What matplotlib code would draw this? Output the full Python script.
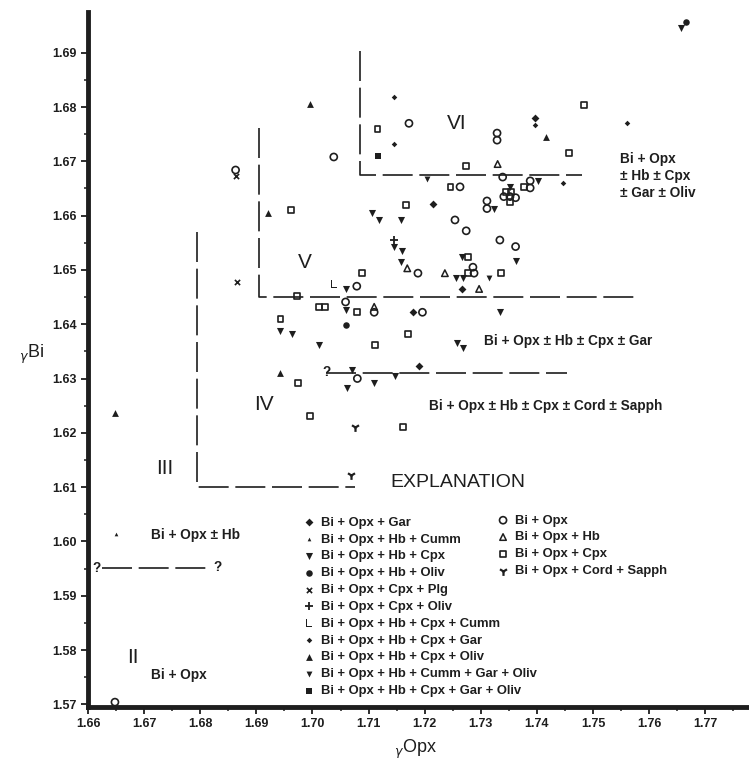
import matplotlib
matplotlib.use('Agg')
import matplotlib.pyplot as plt

plt.rcParams['font.family'] = ['Liberation Sans', 'DejaVu Sans']

INK = '#1e1e1e'

# ---- data (gamma Opx, gamma Bi) ----
gar_x = [1.7397, 1.7179, 1.7189, 1.7214, 1.7266]
gar_y = [1.6780, 1.6422, 1.6323, 1.6622, 1.6465]

hb_cumm_x = [1.6650]
hb_cumm_y = [1.6014]

hb_cpx_x = [1.7352, 1.7402, 1.7323, 1.7107, 1.7118, 1.7157, 1.7146, 1.7159,
            1.7157, 1.7362, 1.7266, 1.7255, 1.7268, 1.7059, 1.7059, 1.6943,
            1.6963, 1.7011, 1.7334, 1.7258, 1.7268, 1.7070, 1.7110, 1.7148,
            1.7061, 1.7657]
hb_cpx_y = [1.6653, 1.6664, 1.6613, 1.6604, 1.6592, 1.6592, 1.6543, 1.6534,
            1.6514, 1.6517, 1.6523, 1.6486, 1.6486, 1.6465, 1.6427, 1.6387,
            1.6382, 1.6361, 1.6422, 1.6366, 1.6356, 1.6315, 1.6291, 1.6304,
            1.6282, 1.6945]

hb_oliv_x = [1.7666, 1.7059]
hb_oliv_y = [1.6957, 1.6398]

cpx_plg_x = [1.6866, 1.6863]
cpx_plg_y = [1.6478, 1.6673]

cpx_oliv_x = [1.7146]
cpx_oliv_y = [1.6555]

hb_cpx_cumm_x = [1.7039]
hb_cpx_cumm_y = [1.6474]

hb_cpx_gar_x = [1.7145, 1.7145, 1.7561, 1.7447, 1.7397]
hb_cpx_gar_y = [1.6818, 1.6732, 1.6770, 1.6660, 1.6766]

hb_cpx_oliv_x = [1.6996, 1.6921, 1.6943, 1.7417, 1.6648]
hb_cpx_oliv_y = [1.6805, 1.6604, 1.6310, 1.6744, 1.6236]

hb_cumm_gar_oliv_x = [1.7205, 1.7314]
hb_cumm_gar_oliv_y = [1.6667, 1.6486]

hb_cpx_gar_oliv_x = [1.7116]
hb_cpx_gar_oliv_y = [1.6710]

opx_x = [1.6863, 1.7038, 1.7172, 1.7329, 1.7329, 1.7339, 1.7263, 1.7388,
         1.7388, 1.7341, 1.7352, 1.7362, 1.7311, 1.7311, 1.7254, 1.7274,
         1.7334, 1.7362, 1.7188, 1.7286, 1.7288, 1.7079, 1.7059, 1.7110,
         1.7196, 1.7080, 1.6648]
opx_y = [1.6684, 1.6708, 1.6770, 1.6752, 1.6739, 1.6671, 1.6653, 1.6664,
         1.6651, 1.6635, 1.6635, 1.6633, 1.6627, 1.6613, 1.6592, 1.6572,
         1.6555, 1.6543, 1.6494, 1.6505, 1.6494, 1.6470, 1.6441, 1.6422,
         1.6422, 1.6300, 1.5704]

hb_x = [1.7330, 1.7236, 1.7297, 1.7169, 1.7110]
hb_y = [1.6695, 1.6494, 1.6465, 1.6503, 1.6432]

cpx_x = [1.7116, 1.7484, 1.7457, 1.7273, 1.7246, 1.7377, 1.7345, 1.7354,
         1.7352, 1.7166, 1.6961, 1.7089, 1.6973, 1.7011, 1.7023, 1.7080,
         1.6943, 1.7111, 1.7170, 1.6975, 1.6995, 1.7161, 1.7277, 1.7277,
         1.7336]
cpx_y = [1.6759, 1.6804, 1.6715, 1.6692, 1.6653, 1.6653, 1.6644, 1.6644,
         1.6625, 1.6620, 1.6611, 1.6494, 1.6452, 1.6432, 1.6432, 1.6422,
         1.6410, 1.6361, 1.6382, 1.6291, 1.6231, 1.6210, 1.6523, 1.6494,
         1.6494]

cord_sapph_x = [1.7075, 1.7068]
cord_sapph_y = [1.6210, 1.6122]

# field boundaries
b6_x = [1.7084, 1.7084, 1.7480]
b6_y = [1.6903, 1.6675, 1.6675]
b5_x = [1.6904, 1.6904, 1.7579]
b5_y = [1.6761, 1.6450, 1.6450]
b4_x = [1.6795, 1.6795, 1.7075]
b4_y = [1.6570, 1.6100, 1.6100]
b45_x = [1.7025, 1.7454]
b45_y = [1.6310, 1.6310]
b23_x = [1.6625, 1.6815]
b23_y = [1.5951, 1.5951]

fig = plt.figure(figsize=(7.49, 7.69), dpi=100)
ax = fig.add_axes([0.1175, 0.0806, 0.8825, 0.9038])

kw = dict(color=INK, linewidths=0)
s_gar = ax.scatter(gar_x, gar_y, marker='D', s=16, **kw)
s_hcu = ax.scatter(hb_cumm_x, hb_cumm_y, marker='^', s=7, **kw)
s_hcp = ax.scatter(hb_cpx_x, hb_cpx_y, marker='v', s=26, **kw)
s_hol = ax.scatter(hb_oliv_x, hb_oliv_y, marker='o', s=22, **kw)
s_plg = ax.scatter(cpx_plg_x, cpx_plg_y, marker='x', s=14, color=INK, linewidths=1.2)
s_col = ax.scatter(cpx_oliv_x, cpx_oliv_y, marker='+', s=40, color=INK, linewidths=1.3)
s_cum = ax.scatter(hb_cpx_cumm_x, hb_cpx_cumm_y, marker=r'$\mathsf{L}$', s=40, **kw)
s_hcg = ax.scatter(hb_cpx_gar_x, hb_cpx_gar_y, marker='D', s=8, **kw)
s_hco = ax.scatter(hb_cpx_oliv_x, hb_cpx_oliv_y, marker='^', s=24, **kw)
s_cgo = ax.scatter(hb_cumm_gar_oliv_x, hb_cumm_gar_oliv_y, marker='v', s=18, **kw)
s_sq = ax.scatter(hb_cpx_gar_oliv_x, hb_cpx_gar_oliv_y, marker='s', s=20, **kw)
s_opx = ax.scatter(opx_x, opx_y, marker='o', s=26, facecolors='none',
                   edgecolors=INK, linewidths=1.2)
s_hb = ax.scatter(hb_x, hb_y, marker='^', s=22, facecolors='none',
                  edgecolors=INK, linewidths=1.1)
s_cpx = ax.scatter(cpx_x, cpx_y, marker='s', s=18, facecolors='none',
                   edgecolors=INK, linewidths=1.2)
s_cs = ax.scatter(cord_sapph_x, cord_sapph_y, marker='1', s=40, color=INK,
                  linewidths=1.6)

dash = (0, (18, 4))
for bx, by in [(b6_x, b6_y), (b5_x, b5_y), (b4_x, b4_y), (b45_x, b45_y), (b23_x, b23_y)]:
    ax.plot(bx, by, color=INK, lw=1.2, linestyle=dash)

bold = dict(color=INK, fontsize=9.8, fontweight='bold', va='center')
ax.text(1.7018, 1.6312, '?', **bold)
ax.text(1.6607, 1.5951, '?', **bold)
ax.text(1.6823, 1.5953, '?', **bold)

big = dict(color=INK, fontsize=15, ha='center', va='center')
ax.text(1.7257, 1.6770, 'VI', **big)
ax.text(1.6986, 1.6513, 'V', **big)
ax.text(1.6914, 1.6253, 'IV', **big)
ax.text(1.6736, 1.6134, 'III', **big)
ax.text(1.6680, 1.5786, 'II', **big)

ax.text(1.7548, 1.6673, 'Bi + Opx\n± Hb ± Cpx\n± Gar ± Oliv', linespacing=1.25, **bold)
ax.text(1.7305, 1.6369, 'Bi + Opx ± Hb ± Cpx ± Gar', **bold)
ax.text(1.7207, 1.6249, 'Bi + Opx ± Hb ± Cpx ± Cord ± Sapph', **bold)
ax.text(1.6712, 1.6012, 'Bi + Opx ± Hb', **bold)
ax.text(1.6712, 1.5754, 'Bi + Opx', **bold)
ax.text(1.7138, 1.6108, 'EXPLANATION', color=INK, fontsize=14, va='center')

labels1 = ['Bi + Opx + Gar', 'Bi + Opx + Hb + Cumm', 'Bi + Opx + Hb + Cpx',
           'Bi + Opx + Hb + Oliv', 'Bi + Opx + Cpx + Plg', 'Bi + Opx + Cpx + Oliv',
           'Bi + Opx + Hb + Cpx + Cumm', 'Bi + Opx + Hb + Cpx + Gar',
           'Bi + Opx + Hb + Cpx + Oliv', 'Bi + Opx + Hb + Cumm + Gar + Oliv',
           'Bi + Opx + Hb + Cpx + Gar + Oliv']
labels2 = ['Bi + Opx', 'Bi + Opx + Hb', 'Bi + Opx + Cpx', 'Bi + Opx + Cord + Sapph']
prop = {'weight': 'bold', 'size': 9.4}
leg_kw = dict(loc='upper left', frameon=False, prop=prop, scatterpoints=1,
              handlelength=0.8, handletextpad=0.55, labelspacing=0.36,
              borderpad=0, borderaxespad=0, labelcolor=INK)
leg1 = ax.legend([s_gar, s_hcu, s_hcp, s_hol, s_plg, s_col, s_cum, s_hcg, s_hco, s_cgo, s_sq],
                 labels1, bbox_to_anchor=(0.326, 0.274), **leg_kw)
ax.add_artist(leg1)
ax.legend([s_opx, s_hb, s_cpx, s_cs], labels2, bbox_to_anchor=(0.620, 0.277), **leg_kw)

ax.set_xlim(1.66, 1.7778)
ax.set_ylim(1.5695, 1.6975)
ax.set_xticks([1.66 + 0.01 * i for i in range(12)])
ax.set_xticklabels(['%.2f' % (1.66 + 0.01 * i) for i in range(12)])
ax.set_yticks([1.57 + 0.01 * i for i in range(13)])
ax.set_yticklabels(['%.2f' % (1.57 + 0.01 * i) for i in range(13)])
ax.set_xticks([1.665 + 0.01 * i for i in range(12)], minor=True)
ax.set_yticks([1.575 + 0.01 * i for i in range(12)], minor=True)
ax.tick_params(which='major', direction='out', length=5, width=1.3, colors=INK,
               labelsize=9, pad=3)
ax.tick_params(which='minor', direction='out', length=3, width=1.1, colors=INK)
for lab in ax.get_xticklabels() + ax.get_yticklabels():
    lab.set_fontweight('bold')

for side in ['top', 'right']:
    ax.spines[side].set_visible(False)
for side in ['left', 'bottom']:
    ax.spines[side].set_linewidth(3.5)
    ax.spines[side].set_color(INK)

ax.set_ylabel(r'$_\gamma$Bi', rotation=0, fontsize=13, color=INK)
ax.yaxis.set_label_coords(-0.085, 0.49)
ax.set_xlabel(r'$_\gamma$Opx', fontsize=13, color=INK)
ax.xaxis.set_label_coords(0.495, -0.045)

fig.savefig('out.png', dpi=100, facecolor='white')
